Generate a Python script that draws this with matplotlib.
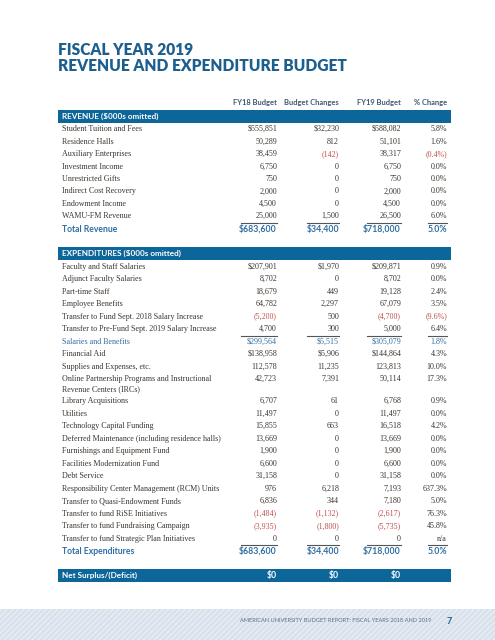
import matplotlib
matplotlib.use("Agg")
import matplotlib.pyplot as plt
from matplotlib.patches import Rectangle

# ---- data ($000s) ----
rev_labels = ["Student Tuition and Fees", "Residence Halls", "Auxiliary Enterprises",
              "Investment Income", "Unrestricted Gifts", "Indirect Cost Recovery",
              "Endowment Income", "WAMU-FM Revenue"]
rev_fy18 = [555851, 50289, 38459, 6750, 750, 2000, 4500, 25000]
rev_chg = [32230, 812, -142, 0, 0, 0, 0, 1500]
rev_fy19 = [588082, 51101, 38317, 6750, 750, 2000, 4500, 26500]
rev_pct = [5.8, 1.6, -0.4, 0.0, 0.0, 0.0, 0.0, 6.0]
rev_total = [683600, 34400, 718000, 5.0]

exp_labels = ["Faculty and Staff Salaries", "Adjunct Faculty Salaries", "Part-time Staff",
              "Employee Benefits", "Transfer to Fund Sept. 2018 Salary Increase",
              "Transfer to Pre-Fund Sept. 2019 Salary Increase", "Salaries and Benefits",
              "Financial Aid", "Supplies and Expenses, etc.",
              "Online Partnership Programs and Instructional\nRevenue Centers (IRCs)",
              "Library Acquisitions", "Utilities", "Technology Capital Funding",
              "Deferred Maintenance (including residence halls)", "Furnishings and Equipment Fund",
              "Facilities Modernization Fund", "Debt Service",
              "Responsibility Center Management (RCM) Units", "Transfer to Quasi-Endowment Funds",
              "Transfer to fund RiSE Initiatives", "Transfer to fund Fundraising Campaign",
              "Transfer to fund Strategic Plan Initiatives"]
exp_fy18 = [207901, 8702, 18679, 64782, -5200, 4700, 299564, 138958, 112578, 42723,
            6707, 11497, 15855, 13669, 1900, 6600, 31158, 976, 6836, -1484, -3935, 0]
exp_chg = [1970, 0, 449, 2297, 500, 300, 5515, 5906, 11235, 7391,
           61, 0, 663, 0, 0, 0, 0, 6218, 344, -1132, -1800, 0]
exp_fy19 = [209871, 8702, 19128, 67079, -4700, 5000, 305079, 144864, 123813, 50114,
            6768, 11497, 16518, 13669, 1900, 6600, 31158, 7193, 7180, -2617, -5735, 0]
exp_pct = [0.9, 0.0, 2.4, 3.5, -9.6, 6.4, 1.8, 4.3, 10.0, 17.3,
           0.9, 0.0, 4.2, 0.0, 0.0, 0.0, 0.0, 637.3, 5.0, 76.3, 45.8, None]
exp_dollar = [0, 6, 7]      # rows printed with a $ sign
exp_subtotal = 6            # "Salaries and Benefits"
exp_total = [683600, 34400, 718000, 5.0]
net_surplus = [0, 0, 0]

col_heads = ["FY18 Budget", "Budget Changes", "FY19 Budget", "% Change"]

# ---- style ----
BLUE = "#0d6699"
TXT = "#3b3530"
RED = "#c0504d"
TBLUE = "#2f6ea5"
SERIF = "Liberation Serif"
SANS = "Lato"
FS = 5.8
col_x = [277, 339, 401, 447]
col_l = [241, 307, 367, 428]
lab_x = 62

fig = plt.figure(figsize=(4.95, 6.4), dpi=100)
ax = fig.add_axes([0, 0, 1, 1])
ax.set_xlim(0, 495)
ax.set_ylim(640, 0)
ax.axis("off")


def fmt_num(v, dollar=False):
    s = f"{abs(v):,}"
    if dollar:
        s = "$" + s
    return f"({s})" if v < 0 else s


def fmt_pct(v):
    if v is None:
        return "n/a"
    return f"({abs(v):.1f}%)" if v < 0 else f"{v:.1f}%"


def row(y, label, vals, pct, dollar=False, color=TXT):
    for k, line in enumerate(label.split("\n")):
        ax.text(lab_x, y + k * 9.8, line, fontsize=FS, family=SERIF, color=color, va="center")
    for i, v in enumerate(vals):
        ax.text(col_x[i], y, fmt_num(v, dollar), fontsize=FS, family=SERIF,
                color=RED if v < 0 else color, va="center", ha="right")
    ax.text(col_x[3], y, fmt_pct(pct), fontsize=FS, family=SERIF,
            color=RED if (pct is not None and pct < 0) else color, va="center", ha="right")


def rules(y):
    for a, b in zip(col_l, col_x):
        ax.plot([a, b], [y, y], color="#555555", lw=0.8)


def total_row(y, label, vals):
    ax.text(lab_x, y, label, fontsize=6.2, family=SANS, weight="bold", color=TBLUE, va="center")
    for i, v in enumerate(vals[:3]):
        ax.text(col_x[i], y, "$" + f"{v:,}", fontsize=6.3, family=SANS, weight="bold",
                color=TBLUE, va="center", ha="right")
    ax.text(col_x[3], y, f"{vals[3]:.1f}%", fontsize=6.3, family=SANS, weight="bold",
            color=TBLUE, va="center", ha="right")


def band(y0, y1, label):
    ax.add_patch(Rectangle((58, y0), 393, y1 - y0, color=BLUE, lw=0))
    ax.text(lab_x, (y0 + y1) / 2, label, fontsize=5.9, family=SANS, weight="bold",
            color="white", va="center")


# title
for yy, t in [(50, "FISCAL YEAR 2019"), (66, "REVENUE AND EXPENDITURE BUDGET")]:
    ax.text(58, yy, t, fontsize=11.2, family=SANS, weight="heavy", color="#1c5f8e", va="center")

for x, h in zip(col_x, col_heads):
    ax.text(x, 103, h, fontsize=5.4, family=SANS, weight="bold", color="#3d5775", va="center", ha="right")

# revenue
band(110, 123, "REVENUE ($000s omitted)")
y = 129.3
for i, lab in enumerate(rev_labels):
    row(y, lab, [rev_fy18[i], rev_chg[i], rev_fy19[i]], rev_pct[i], dollar=(i == 0))
    y += 12.43
rules(223)
total_row(229, "Total Revenue", rev_total)

# expenditures
band(247, 260, "EXPENDITURES ($000s omitted)")
y = 266.7
for i, lab in enumerate(exp_labels):
    if i == exp_subtotal:
        rules(y - 5.2)
    c = TBLUE if i == exp_subtotal else TXT
    row(y, lab, [exp_fy18[i], exp_chg[i], exp_fy19[i]], exp_pct[i], dollar=(i in exp_dollar), color=c)
    y += 22.2 if "\n" in lab else 12.48
rules(545)
total_row(551, "Total Expenditures", exp_total)

# net surplus
band(569, 582, "Net Surplus/(Deficit)")
for i, v in enumerate(net_surplus):
    ax.text(col_x[i], 575.5, f"${v:,}", fontsize=6.3, family=SANS, weight="bold", color="white",
            va="center", ha="right")

# footer
plt.rcParams["hatch.linewidth"] = 0.6
ax.add_patch(Rectangle((0, 609), 495, 31, facecolor="#d9e1ec", edgecolor="#f2f5f9",
                       hatch="//////", lw=0))
ax.text(432, 621, "AMERICAN UNIVERSITY BUDGET REPORT: FISCAL YEARS 2018 AND 2019", fontsize=4.1,
        family=SANS, color="#5b6f8d", va="center", ha="right")
ax.text(449, 621, "7", fontsize=6.5, family=SANS, weight="bold", color="#1c5f8e", va="center", ha="center")

fig.savefig("out.png", dpi=100, facecolor="white")
